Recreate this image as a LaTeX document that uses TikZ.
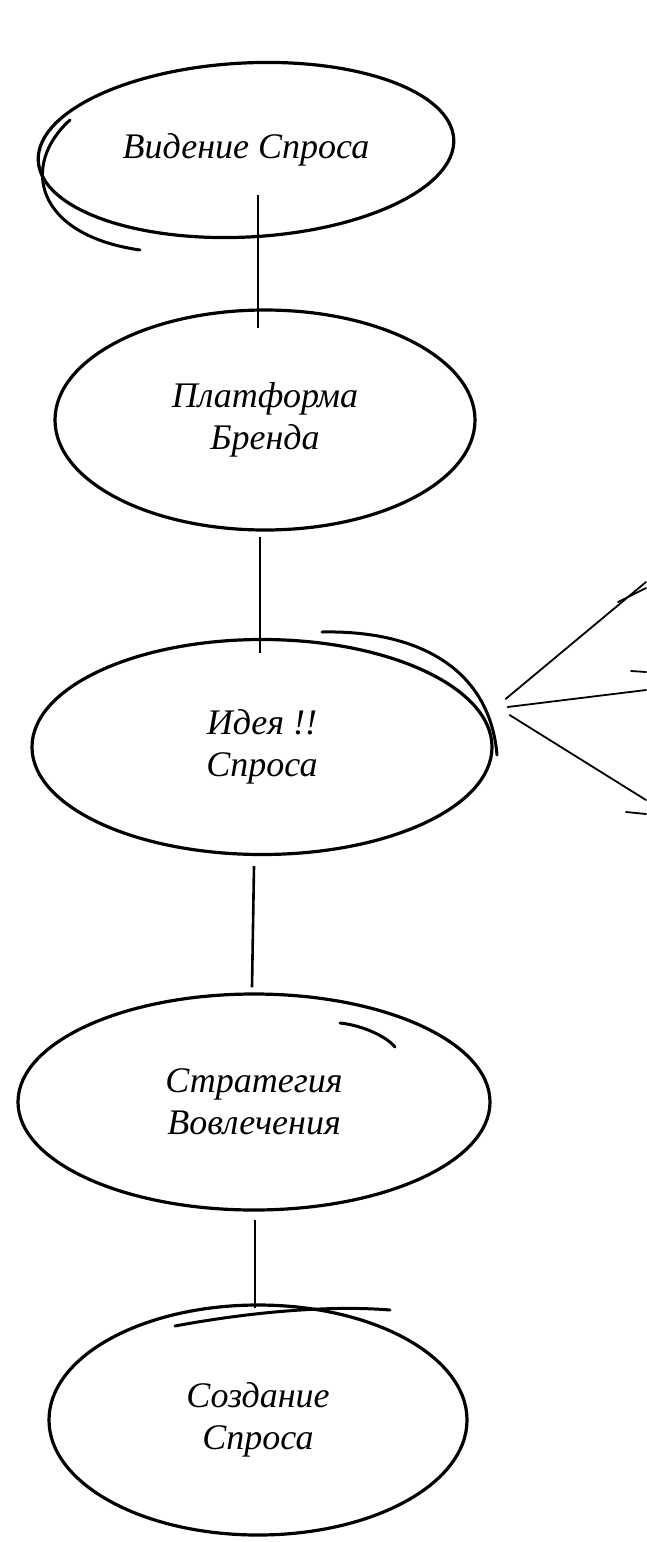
\documentclass[tikz,border=0pt]{standalone}
\usepackage{fontspec}
\setmainfont{Liberation Serif}
\usetikzlibrary{shapes.geometric,calc}
\begin{document}
\begin{tikzpicture}[x=1pt,y=-1pt,
  oval/.style={ellipse,draw=black,line width=3.2pt,inner sep=0pt,align=center,
    font=\itshape\fontsize{36}{42}\selectfont},
  txt/.style={align=center,font=\itshape\fontsize{36}{42}\selectfont},
  link/.style={draw=black,line width=2.6pt},
  extra/.style={draw=black,line width=3pt,line cap=round},
  fan/.style={draw=black,line width=1.8pt,line cap=round}]
\useasboundingbox (0,0) rectangle (646,1542);
\node[oval,minimum width=416pt,minimum height=174pt,rotate=3] (e1) at (246,150) {};
\node[txt] (t1) at (e1.center) {Видение Спроса};
\node[oval,minimum width=420pt,minimum height=220pt] (e2) at (265,420) {Платформа\\Бренда};
\node[oval,minimum width=460pt,minimum height=215pt] (e3) at (262,747) {Идея !!\\Спроса};
\node[oval,minimum width=472pt,minimum height=216pt] (e4) at (254,1102) {Стратегия\\Вовлечения};
\node[oval,minimum width=418pt,minimum height=230pt] (e5) at (258,1420) {Создание\\Спроса};
% connectors
\draw[link] ($(e1.center)+(12,45)$) -- ($(e2.north)+(-7,20)$);
\draw[link] ($(e2.south)+(-5,5)$) -- ($(e3.north)+(-2,15)$);
\draw[link] ($(e3.south)+(-8,10)$) -- ($(e4.north)+(-2,-5)$);
\draw[link] ($(e4.south)+(1,8)$) -- ($(e5.north)+(-3,5)$);
% extra strokes
\draw[extra] (70,120) .. controls (20,165) and (35,235) .. (140,250);
\draw[extra] (322,632) .. controls (420,630) and (490,670) .. (497,755);
\draw[extra] (340,1023) .. controls (360,1025) and (385,1035) .. (395,1047);
\draw[extra] (175,1326) .. controls (250,1312) and (330,1305) .. (390,1310);
% fan lines
\coordinate (f1) at (646,582);
\coordinate (f2) at (646,690);
\coordinate (f3) at (646,800);
\draw[fan] ($(e3.east)+(12,-48)$) -- (f1);
\draw[fan] ($(e3.east)+(14,-40)$) -- (f2);
\draw[fan] ($(e3.east)+(16,-32)$) -- (f3);
\draw[fan] (618,602) -- (646,588);
\draw[fan] (631,671) -- (646,672);
\draw[fan] (626,812) -- (646,814);
\end{tikzpicture}
\end{document}
